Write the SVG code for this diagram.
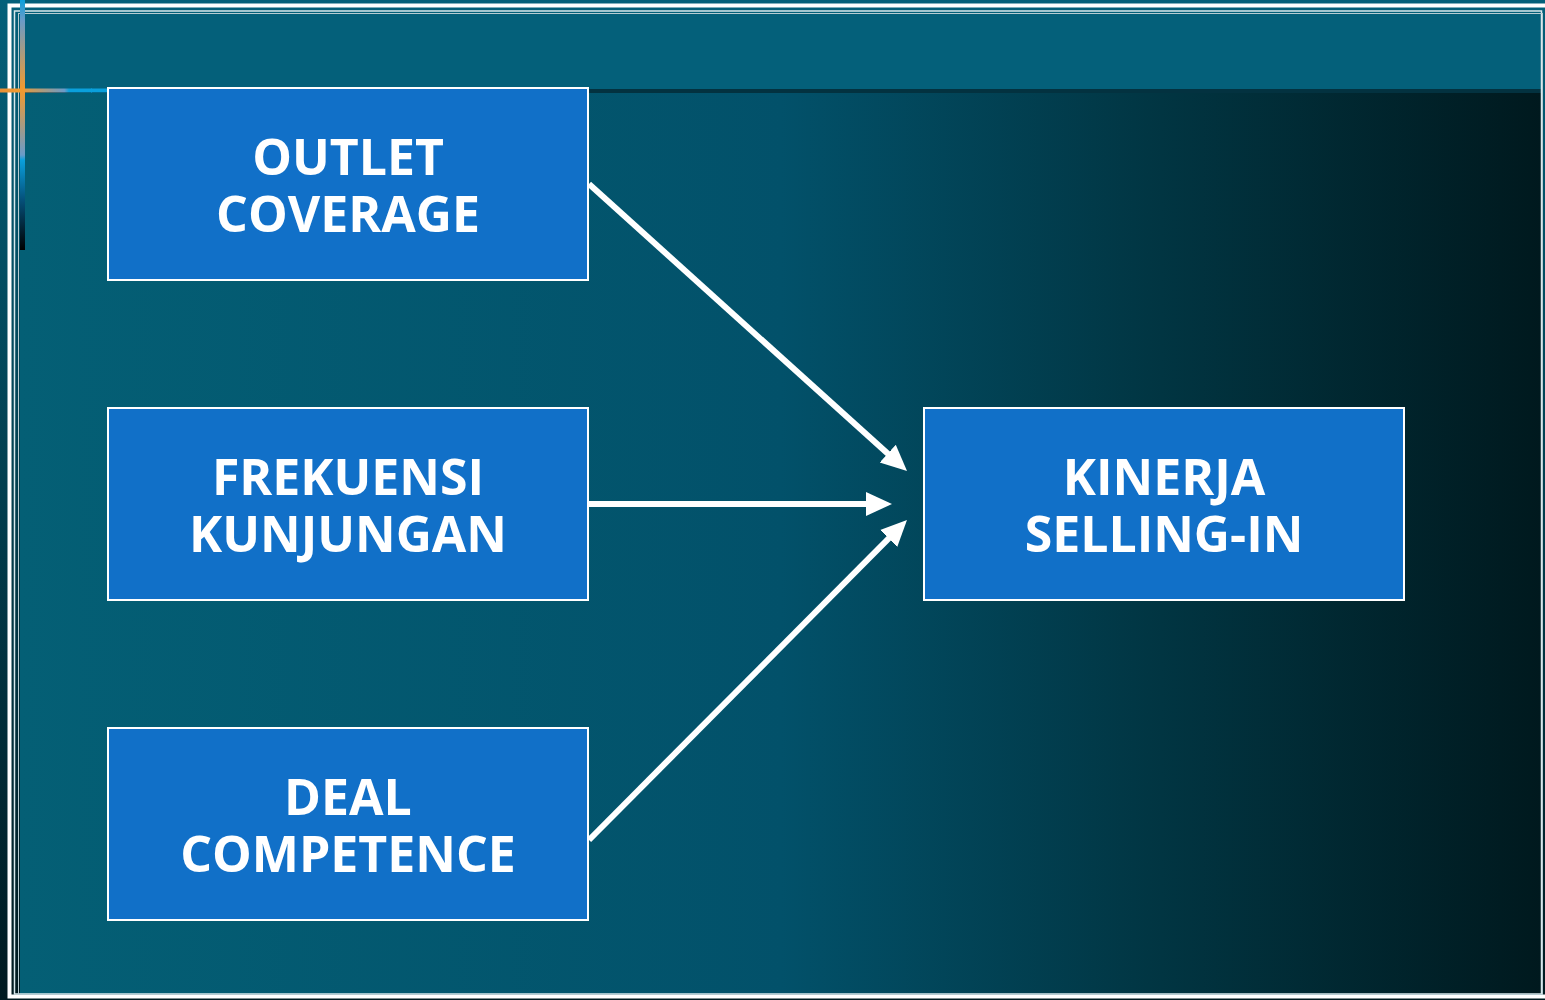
<svg xmlns="http://www.w3.org/2000/svg" width="1545" height="1000" viewBox="0 0 1545 1000">
<style>
.box{fill:#1170C8;stroke:#FFFFFF;stroke-width:2}
.lbl{font-family:"Open Sans","Noto Sans","DejaVu Sans",sans-serif;font-weight:bold;font-size:50px;fill:#FFFFFF;text-anchor:middle}
.conn{stroke:#FFFFFF;stroke-width:6;fill:none}
</style>
<defs>
<linearGradient id="outer" x1="0" y1="0" x2="0" y2="1">
<stop offset="0" stop-color="#04607A"/>
<stop offset="0.5" stop-color="#023E4E"/>
<stop offset="1" stop-color="#001A20"/>
</linearGradient>
<linearGradient id="main" x1="0" y1="0" x2="1" y2="0">
<stop offset="0" stop-color="#045F75"/>
<stop offset="0.5" stop-color="#02516A"/>
<stop offset="0.75" stop-color="#013542"/>
<stop offset="1" stop-color="#00191E"/>
</linearGradient>
<linearGradient id="hline" x1="0" y1="0" x2="1" y2="0">
<stop offset="0" stop-color="#E8913A"/>
<stop offset="0.2" stop-color="#F29A2E"/>
<stop offset="0.7" stop-color="#6A9BC8"/>
<stop offset="0.75" stop-color="#0AA0DC"/>
<stop offset="1" stop-color="#0AA0DC"/>
</linearGradient>
<linearGradient id="vline" x1="0" y1="0" x2="0" y2="1">
<stop offset="0" stop-color="#0AA0DC"/>
<stop offset="0.08" stop-color="#6A9BC8"/>
<stop offset="0.36" stop-color="#F29A2E"/>
<stop offset="0.62" stop-color="#6A9BC8"/>
<stop offset="0.64" stop-color="#0AA0DC"/>
<stop offset="0.8" stop-color="#05507A"/>
<stop offset="1" stop-color="#000000"/>
</linearGradient>
<marker id="ah" markerUnits="userSpaceOnUse" markerWidth="28" markerHeight="28" viewBox="0 0 28 28" refX="4" refY="14" orient="auto">
<path d="M0,2 L26,14 L0,26 Z" fill="#FFFFFF"/>
</marker>
</defs>
<rect x="0" y="0" width="1545" height="1000" fill="url(#outer)"/>
<rect x="20" y="14" width="1522" height="980" fill="url(#main)"/>
<rect x="20" y="14" width="1522" height="75" fill="#04607A"/>
<rect x="20" y="89" width="1522" height="4" fill="#033240"/>
<rect x="9.5" y="5.5" width="1545" height="991" fill="none" stroke="#FFFFFF" stroke-width="4"/>
<rect x="14.5" y="11" width="1527" height="983" fill="none" stroke="#D8E8EC" stroke-width="1.5"/>
<rect x="18.5" y="13.5" width="1524" height="981" fill="none" stroke="#B8CCD2" stroke-width="1"/>
<rect x="0" y="88.5" width="92" height="4" fill="url(#hline)"/>
<rect x="91" y="88.5" width="17" height="4" fill="#0AA0DC"/>
<rect x="20" y="0" width="5" height="250" fill="url(#vline)"/>
<g id="connectors">
<line class="conn" x1="589" y1="184" x2="890.7" y2="456.3" marker-end="url(#ah)"/>
<line class="conn" x1="589" y1="504" x2="870" y2="504" marker-end="url(#ah)"/>
<line class="conn" x1="589" y1="840" x2="891.5" y2="535.6" marker-end="url(#ah)"/>
</g>
<g id="outlet-coverage">
<rect class="box" x="108" y="88" width="480" height="192"/>
<text class="lbl" x="348" y="175">OUTLET</text>
<text class="lbl" x="348" y="232">COVERAGE</text>
</g>
<g id="frekuensi-kunjungan">
<rect class="box" x="108" y="408" width="480" height="192"/>
<text class="lbl" x="348" y="495">FREKUENSI</text>
<text class="lbl" x="348" y="552">KUNJUNGAN</text>
</g>
<g id="deal-competence">
<rect class="box" x="108" y="728" width="480" height="192"/>
<text class="lbl" x="348" y="815">DEAL</text>
<text class="lbl" x="348" y="872">COMPETENCE</text>
</g>
<g id="kinerja-selling-in">
<rect class="box" x="924" y="408" width="480" height="192"/>
<text class="lbl" x="1164" y="495">KINERJA</text>
<text class="lbl" x="1164" y="552">SELLING-IN</text>
</g>
</svg>
